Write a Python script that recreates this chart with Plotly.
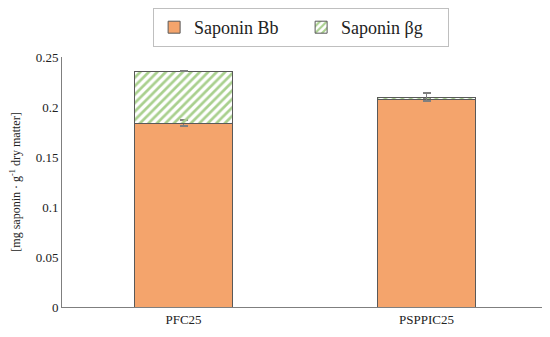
import plotly.graph_objects as go

categories = ["PFC25", "PSPPIC25"]
saponin_bb = [0.184, 0.208]
saponin_bb_err = [0.003, 0.0]
saponin_bg = [0.052, 0.002]
saponin_bg_err = [0.0005, 0.004]
y_ticks = [0, 0.05, 0.1, 0.15, 0.2, 0.25]
y_tick_labels = ["0", "0.05", "0.1", "0.15", "0.2", "0.25"]

font_family = "Liberation Serif"

fig = go.Figure()
fig.add_trace(go.Bar(
    x=categories, y=saponin_bb, name="Saponin Bb",
    marker=dict(color="#F4A46C", line=dict(color="#595959", width=1)),
    error_y=dict(type="data", array=saponin_bb_err, color="#7F7F7F", thickness=1.5, width=4),
))
fig.add_trace(go.Bar(
    x=categories, y=saponin_bg, name="Saponin βg",
    marker=dict(color="rgba(0,0,0,0)", line=dict(color="#595959", width=1),
                pattern=dict(shape="/", fgcolor="#A9D08E", bgcolor="rgba(0,0,0,0)",
                             fgopacity=1, size=6, solidity=0.45, fillmode="overlay")),
    error_y=dict(type="data", array=saponin_bg_err, color="#7F7F7F", thickness=1.5, width=4),
))

fig.update_layout(
    width=542, height=329,
    barmode="stack", bargap=0.6,
    plot_bgcolor="white", paper_bgcolor="white",
    margin=dict(l=54, r=2, t=49, b=30, autoexpand=False),
    font=dict(family=font_family, size=13, color="#222222"),
    showlegend=True,
    legend=dict(orientation="h", x=0.492, xanchor="center", y=1.196, yanchor="top",
                bordercolor="#BFBFBF", borderwidth=1, font=dict(family=font_family, size=18),
                traceorder="normal", itemwidth=30, entrywidth=102, tracegroupgap=0),
)
fig.update_xaxes(showline=True, linecolor="#7F7F7F", linewidth=1, ticks="",
                 tickfont=dict(family=font_family, size=13), automargin=False)
fig.update_yaxes(range=[0, 0.25], tickvals=y_ticks, ticktext=y_tick_labels,
                 showline=True, linecolor="#7F7F7F", linewidth=1, showgrid=False,
                 zeroline=False, ticks="", tickfont=dict(family=font_family, size=13),
                 automargin=False,
                 title=dict(text="[mg saponin · g<sup>-1</sup> dry matter]",
                            font=dict(family=font_family, size=12), standoff=20))

fig.write_html("out.html")
